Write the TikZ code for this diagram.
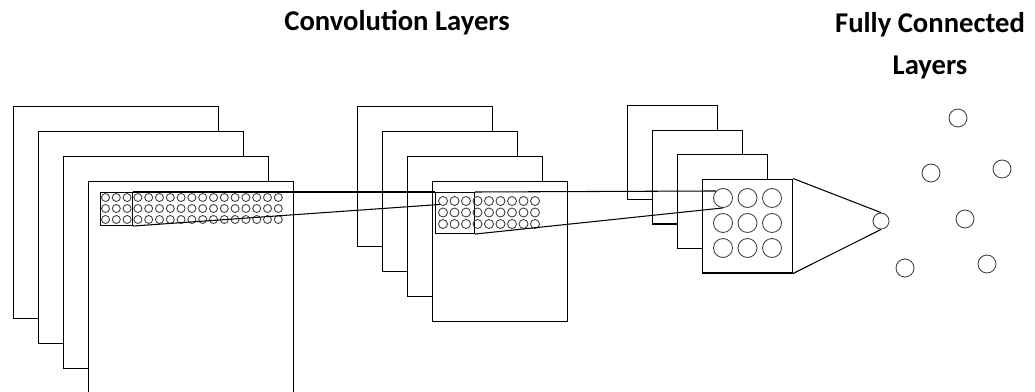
\documentclass[tikz,border=0pt]{standalone}
\usepackage{fontspec}
\setmainfont{Carlito}
\tikzstyle{layer} = [rectangle, draw=black, fill=white, line width=0.6pt, anchor=north west, inner sep=0pt]
\tikzstyle{patch} = [rectangle, draw=black, line width=0.6pt, anchor=north west, inner sep=0pt]
\tikzstyle{neuron} = [circle, draw=black!75, line width=0.5pt, inner sep=0pt]
\tikzstyle{link} = [line width=0.6pt, draw=black]
\tikzstyle{title} = [font=\fontsize{16.3}{24}\selectfont\bfseries, align=center]
\begin{document}
\begin{tikzpicture}[x=0.02cm, y=-0.02cm]
    \useasboundingbox (0,0) rectangle (1035,392);

    % Titulos
    \node (convtitle) [title] at (397,23) {Convolution Layers};
    \node (fctitle) [title] at (930,46) {Fully Connected\\Layers};

    % Capa 1
    \foreach \i in {1,...,4}
        \node (a\i) [layer, minimum width=4.1cm, minimum height=4.24cm] at ({13+25*(\i-1)}, {106+25*(\i-1)}) {};
    \node (pa) [patch, minimum width=0.64cm, minimum height=0.66cm] at (100,192) {};
    \foreach \r in {1,2,3}
        \foreach \c in {1,...,17}
            \node (a-\r-\c) [neuron, minimum size=0.16cm] at ({105.5+10.8*(\c-1)}, {197.5+11*(\r-1)}) {};

    % Capa 2
    \foreach \i in {1,...,4}
        \node (b\i) [layer, minimum width=2.7cm, minimum height=2.8cm] at ({357+25*(\i-1)}, {106+25*(\i-1)}) {};
    \node (pb) [patch, minimum width=0.78cm, minimum height=0.82cm] at (435,192) {};
    \foreach \r in {1,2,3}
        \foreach \c in {1,...,9}
            \node (b-\r-\c) [neuron, minimum size=0.18cm] at ({443+11.5*(\c-1)}, {201+11.5*(\r-1)}) {};

    % Capa 3
    \foreach \i in {1,...,4}
        \node (c\i) [layer, minimum width=1.8cm, minimum height=1.88cm] at ({627+25*(\i-1)}, {105+24.5*(\i-1)}) {};
    \foreach \r in {1,2,3}
        \foreach \c in {1,2,3}
            \node (c-\r-\c) [neuron, minimum size=0.38cm] at ({723+24.5*(\c-1)}, {198+25*(\r-1)}) {};

    % Capas totalmente conectadas
    \node (fc0) [neuron, minimum size=0.32cm] at (881,221) {};
    \node (fc1) [neuron, minimum size=0.36cm] at (958,118) {};
    \node (fc2) [neuron, minimum size=0.36cm] at (931,173) {};
    \node (fc3) [neuron, minimum size=0.36cm] at (1002,169) {};
    \node (fc4) [neuron, minimum size=0.36cm] at (965,219) {};
    \node (fc5) [neuron, minimum size=0.36cm] at (905,268) {};
    \node (fc6) [neuron, minimum size=0.36cm] at (987,264) {};

    % Lineas
    \draw [link] (pa.north east) -- (pb.north west);
    \draw [link] (pa.south east) -- (b-1-1.south west);
    \draw [link] (pb.north east) -- (c-1-1.north west);
    \draw [link] (pb.south east) -- (c-1-1.south);
    \draw [link] (c4.north east) -- (fc0.north);
    \draw [link] (c4.south east) -- (fc0.south);
\end{tikzpicture}
\end{document}
